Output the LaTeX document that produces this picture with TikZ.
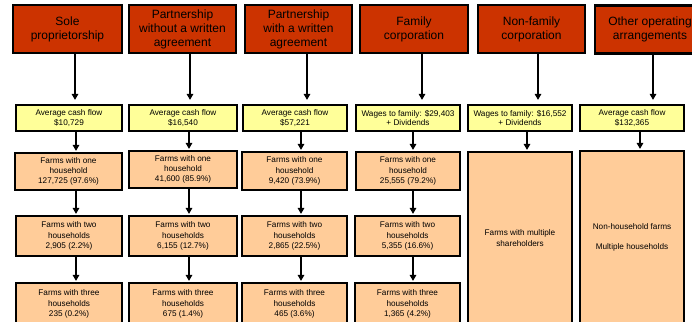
\documentclass[tikz,border=0pt]{standalone}
\usepackage{fontspec}
\setmainfont{Liberation Sans}
\usetikzlibrary{arrows.meta}
\definecolor{hdr}{HTML}{CC3300}
\definecolor{ylw}{HTML}{FFFF99}
\definecolor{org}{HTML}{FFCC99}
\begin{document}
\begin{tikzpicture}[x=1pt,y=-1pt,
  box/.style={draw=black, line width=2.2pt, align=center, inner sep=1pt},
  hdrbox/.style={box, fill=hdr, minimum height=48pt, font=\fontsize{12}{14}\selectfont},
  cashbox/.style={box, fill=ylw, minimum height=26pt, font=\fontsize{8.2}{9.5}\selectfont},
  farmbox/.style={box, fill=org, font=\fontsize{8.2}{10.3}\selectfont},
  toparr/.style={line width=1.4pt, -{Triangle[length=6pt,width=6.5pt]}, shorten >=4pt},
  arr/.style={line width=1.8pt, -{Triangle[length=6pt,width=6.5pt]}, shorten >=1pt}]
\useasboundingbox (0,0) rectangle (692,321);
\clip (0,0) rectangle (692,321);

% header boxes
\node[hdrbox, minimum width=109pt] (r1) at (67.5,29) {Sole\\proprietorship};
\node[hdrbox, minimum width=107pt] (r2) at (182.5,29) {Partnership\\without a written\\agreement};
\node[hdrbox, minimum width=107pt] (r3) at (298.5,29) {Partnership\\with a written\\agreement};
\node[hdrbox, minimum width=108pt] (r4) at (414,29) {Family\\corporation};
\node[hdrbox, minimum width=107pt] (r5) at (531.5,29) {Non-family\\corporation};
\node[hdrbox, minimum width=110pt] (r6) at (650,29.5) {Other operating\\arrangements};

% cash flow boxes
\node[cashbox, minimum width=106pt] (y1) at (69,118) {Average cash flow\\\$10,729};
\node[cashbox, minimum width=108pt] (y2) at (183,118) {Average cash flow\\\$16,540};
\node[cashbox, minimum width=104pt] (y3) at (295,118) {Average cash flow\\\$57,221};
\node[cashbox, minimum width=104pt] (y4) at (408,118) {Wages to family: \$29,403\\+ Dividends};
\node[cashbox, minimum width=104pt] (y5) at (520,118) {Wages to family: \$16,552\\+ Dividends};
\node[cashbox, minimum width=104pt] (y6) at (632,118) {Average cash flow\\\$132,365};

% one household
\node[farmbox, minimum width=107pt, minimum height=37pt] (o1) at (68.5,171.5) {Farms with one\\household\\127,725 (97.6\%)};
\node[farmbox, minimum width=108pt, minimum height=37pt] (o2) at (183,169.5) {Farms with one\\household\\41,600 (85.9\%)};
\node[farmbox, minimum width=105pt, minimum height=38pt] (o3) at (294.5,171) {Farms with one\\household\\9,420 (73.9\%)};
\node[farmbox, minimum width=104pt, minimum height=38pt] (o4) at (408,171) {Farms with one\\household\\25,555 (79.2\%)};

% tall boxes
\node[farmbox, minimum width=104pt, minimum height=172pt] (t5) at (520,238) {Farms with multiple\\shareholders};
\node[farmbox, minimum width=104pt, minimum height=172pt] (t6) at (632,237) {Non-household farms\\[9.5pt]Multiple households};

% two households
\node[farmbox, minimum width=106pt, minimum height=40pt] (w1) at (69,236) {Farms with two\\households\\2,905 (2.2\%)};
\node[farmbox, minimum width=108pt, minimum height=40pt] (w2) at (183,236) {Farms with two\\households\\6,155 (12.7\%)};
\node[farmbox, minimum width=105pt, minimum height=40pt] (w3) at (294.5,236) {Farms with two\\households\\2,865 (22.5\%)};
\node[farmbox, minimum width=105pt, minimum height=40pt] (w4) at (407.5,236) {Farms with two\\households\\5,355 (16.6\%)};

% three households
\node[farmbox, minimum width=106pt, minimum height=42pt] (h1) at (69,304) {Farms with three\\households\\235 (0.2\%)};
\node[farmbox, minimum width=108pt, minimum height=42pt] (h2) at (183,304) {Farms with three\\households\\675 (1.4\%)};
\node[farmbox, minimum width=105pt, minimum height=42pt] (h3) at (294.5,304) {Farms with three\\households\\465 (3.6\%)};
\node[farmbox, minimum width=105pt, minimum height=42pt] (h4) at (407.5,304) {Farms with three\\households\\1,365 (4.2\%)};

% arrows header -> cash
\draw[toparr] ([xshift=7.5pt]r1.south) -- ([xshift=6pt]y1.north);
\draw[toparr] ([xshift=7.5pt]r2.south) -- ([xshift=7pt]y2.north);
\draw[toparr] ([xshift=8.5pt]r3.south) -- ([xshift=12pt]y3.north);
\draw[toparr] ([xshift=8pt]r4.south) -- ([xshift=14pt]y4.north);
\draw[toparr] ([xshift=6.5pt]r5.south) -- ([xshift=18pt]y5.north);
\draw[toparr] ([xshift=3pt]r6.south) -- ([xshift=21pt]y6.north);

% arrows cash -> farms
\draw[arr] ([xshift=7pt]y1.south) -- ([xshift=7.5pt]o1.north);
\draw[arr] ([xshift=6pt]y2.south) -- ([xshift=6pt]o2.north);
\draw[arr] ([xshift=6pt]y3.south) -- ([xshift=6.5pt]o3.north);
\draw[arr] ([xshift=5pt]y4.south) -- ([xshift=5pt]o4.north);
\draw[arr] ([xshift=7pt]y5.south) -- ([xshift=7pt]t5.north);
\draw[arr] ([xshift=8pt]y6.south) -- ([xshift=8pt]t6.north);

% arrows one -> two -> three
\draw[arr] ([xshift=7.5pt]o1.south) -- ([xshift=7pt]w1.north);
\draw[arr] ([xshift=6pt]o2.south) -- ([xshift=6pt]w2.north);
\draw[arr] ([xshift=6.5pt]o3.south) -- ([xshift=6.5pt]w3.north);
\draw[arr] ([xshift=5pt]o4.south) -- ([xshift=5.5pt]w4.north);
\draw[arr] ([xshift=7pt]w1.south) -- ([xshift=7pt]h1.north);
\draw[arr] ([xshift=6pt]w2.south) -- ([xshift=6pt]h2.north);
\draw[arr] ([xshift=6.5pt]w3.south) -- ([xshift=6.5pt]h3.north);
\draw[arr] ([xshift=5.5pt]w4.south) -- ([xshift=5.5pt]h4.north);
\end{tikzpicture}
\end{document}
